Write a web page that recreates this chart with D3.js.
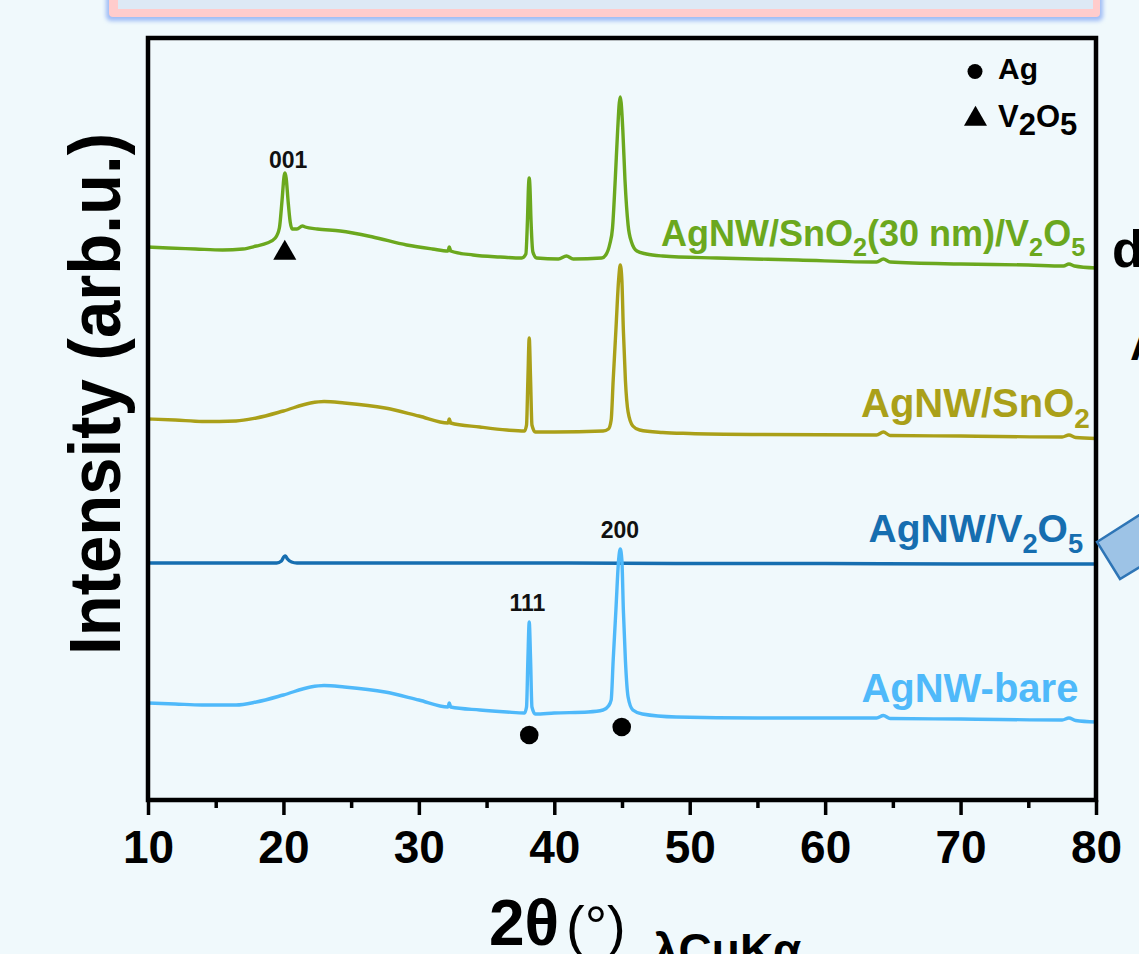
<!DOCTYPE html>
<html>
<head>
<meta charset="utf-8">
<script src="https://cdn.jsdelivr.net/npm/d3@7"></script>
<style>
  html, body { margin: 0; padding: 0; background: #f0f9fc; }
  svg { display: block; }
  text { font-family: "Liberation Sans", Arial, sans-serif; }
</style>
</head>
<body>
<svg id="chart" width="1139" height="954"></svg>
<script>
// ---------------- DATA ----------------
const xDomain = [10, 80];
const yDomain = [0, 762];
const xTicks = [10, 20, 30, 40, 50, 60, 70, 80];
const xMinorTicks = [15, 25, 35, 45, 55, 65, 75];

// [2θ, intensity (arb.u., stacked)]
const agnwSnO2V2O5 = [[10.0,553],[11.5,552],[13.5,551],[15.5,550],[17.0,551],[18.0,554],[18.8,557],[19.4,562],[19.7,572],[19.9,600],[20.05,624],[20.12,627],[20.2,622],[20.35,598],[20.5,578],[20.65,571],[21.0,571],[21.4,574],[21.6,573],[22.5,571],[24.2,569],[26.6,563],[29.1,555],[31.0,551],[32.15,549],[32.25,553],[32.35,549],[34.0,545],[36.0,543],[37.6,542],[37.9,546],[38.02,580],[38.1,615],[38.15,622],[38.2,614],[38.28,580],[38.42,548],[38.7,542],[40.3,541],[40.9,544],[41.4,541],[43.5,542],[43.8,545],[44.1,556],[44.3,572],[44.5,620],[44.68,670],[44.8,697],[44.87,703],[44.94,697],[45.06,670],[45.22,620],[45.45,575],[45.7,558],[46.1,549],[46.8,546],[48.0,544],[52.0,542],[58.0,540],[63.8,538],[64.3,541],[64.8,538],[70.0,536],[75.0,535],[77.6,534],[78.0,536],[78.4,534],[80.0,532]];

const agnwSnO2 = [[10.0,381],[12.0,380],[14.0,378.5],[16.5,379],[18.0,382],[20.0,389],[22.0,397],[23.0,398.5],[24.5,397],[27.5,392],[30.0,384],[32.15,377],[32.25,381],[32.35,377],[34.5,373],[36.5,370],[37.8,369],[37.95,375],[38.05,420],[38.15,462],[38.25,420],[38.35,375],[38.6,368],[40.0,368],[43.6,369],[44.0,371],[44.2,380],[44.35,420],[44.55,470],[44.75,520],[44.87,535],[44.99,520],[45.1,470],[45.25,420],[45.45,388],[45.8,374],[46.3,370],[48.0,367.5],[50.0,366.5],[55.0,365.5],[63.8,365],[64.3,368],[64.8,364.5],[70.0,364],[77.5,363],[78.0,365],[78.5,362.5],[80.0,361.5]];

const agnwV2O5 = [[10.0,237],[15.0,237],[19.5,237],[19.85,239],[20.05,243.5],[20.15,244],[20.3,241],[20.6,238],[21.0,237],[30.0,237],[40.0,237],[50.0,236.5],[60.0,236.5],[70.0,236],[80.0,236]];

const agnwBare = [[10.0,97],[12.0,96],[14.0,95],[16.5,95],[18.0,98],[20.0,105],[22.0,113],[23.0,114.5],[24.5,113],[27.5,108],[30.0,100],[32.15,93],[32.25,97],[32.35,93],[34.5,90],[36.5,88],[37.8,87],[37.95,93],[38.05,140],[38.15,178],[38.25,140],[38.35,93],[38.6,86],[40.0,87],[42.5,88],[43.6,90],[44.0,94],[44.2,100],[44.35,140],[44.55,190],[44.75,240],[44.87,251],[44.99,240],[45.1,190],[45.25,140],[45.45,103],[45.8,90],[46.5,86],[49.0,83],[55.0,82],[63.8,82],[64.3,84.5],[64.8,81.5],[70.0,81],[77.5,80],[78.0,82],[78.5,79.5],[80.0,78]];

// series labels: [text, isSubscript]
const seriesLabels = [
  [["AgNW/SnO",0],["2",1],["(30 nm)/V",0],["2",1],["O",0],["5",1]],
  [["AgNW/SnO",0],["2",1]],
  [["AgNW/V",0],["2",1],["O",0],["5",1]],
  [["AgNW-bare",0]]
];
const labelY = [554, 383, 258, 98];          // intensity positions of label baselines
const labelX = [79.2, 79.55, 79.05, 78.7];   // 2θ of label right ends

const peakLabels = ["001", "111", "200"];
const peakLabelX = [20.35, 38.02, 44.85];
const peakLabelY = [632, 189, 262];

const agMarkers = [[38.15, 65], [44.98, 73]];
const v2o5Markers = [[20.1, 549]];

const legendItems = ["Ag", "V2O5"];

// ---------------- STYLE ----------------
const colors = ["#6ba81e", "#aaa019", "#166eb0", "#4fb9fa"];
const labelSizes = [36, 40, 39, 40];
const seriesData = [agnwSnO2V2O5, agnwSnO2, agnwV2O5, agnwBare];
const L = 148, R = 1096, T = 38, B = 800;

const svg = d3.select("#chart");

// header box
const defs = svg.append("defs");
defs.append("filter").attr("id","glow").attr("x","-5%").attr("y","-50%").attr("width","110%").attr("height","200%")
  .append("feGaussianBlur").attr("stdDeviation", 2);
svg.append("rect").attr("x",106).attr("y",-20).attr("width",997).attr("height",41).attr("rx",5)
  .attr("fill","#9fbcf5").attr("filter","url(#glow)");
svg.append("rect").attr("x",109).attr("y",-20).attr("width",991).attr("height",37).attr("rx",4).attr("fill","#ffcccc");
svg.append("rect").attr("x",118).attr("y",-20).attr("width",975).attr("height",29).attr("fill","#dde9f5");

const x = d3.scaleLinear().domain(xDomain).range([L, R]);
const y = d3.scaleLinear().domain(yDomain).range([B, T]);

// traces
const line = d3.line().x(d => x(d[0])).y(d => y(d[1])).curve(d3.curveMonotoneX);
defs.append("clipPath").attr("id","clip").append("rect").attr("x",L).attr("y",T).attr("width",R-L).attr("height",B-T);
const g = svg.append("g").attr("clip-path","url(#clip)");
seriesData.forEach((s, i) => {
  g.append("path").datum(s).attr("d", line).attr("fill","none")
    .attr("stroke", colors[i]).attr("stroke-width", 3.4).attr("stroke-linejoin","round");
});

// series labels
seriesLabels.forEach((parts, i) => {
  const fs = labelSizes[i];
  const t = svg.append("text").attr("x", x(labelX[i])).attr("y", y(labelY[i]))
    .attr("text-anchor","end").attr("font-weight","bold").attr("font-size", fs).attr("fill", colors[i]);
  let sub = false;
  parts.forEach(([txt, s]) => {
    const ts = t.append("tspan").text(txt);
    if (s && !sub) { ts.attr("dy", fs*0.28).attr("font-size", fs*0.7); sub = true; }
    else if (s && sub) { ts.attr("font-size", fs*0.7); }
    else if (!s && sub) { ts.attr("dy", -fs*0.28).attr("font-size", fs); sub = false; }
  });
});

// peak labels
peakLabels.forEach((p, i) => {
  svg.append("text").attr("x", x(peakLabelX[i])).attr("y", y(peakLabelY[i]))
    .attr("text-anchor","middle").attr("font-weight","bold").attr("font-size", 23).attr("fill","#111").text(p);
});

// markers
const tri = d3.symbol().type(d3.symbolTriangle).size(230);
agMarkers.forEach(d => svg.append("circle").attr("cx", x(d[0])).attr("cy", y(d[1])).attr("r", 9.3).attr("fill","#000"));
v2o5Markers.forEach(d => svg.append("path").attr("d", tri()).attr("transform", `translate(${x(d[0])},${y(d[1])+2})`).attr("fill","#000"));

// legend
svg.append("circle").attr("cx", 975).attr("cy", 71.5).attr("r", 7.5).attr("fill","#000");
svg.append("text").attr("x", 998).attr("y", 79).attr("font-weight","bold").attr("font-size", 30).attr("fill","#000").text(legendItems[0]);
svg.append("path").attr("d", tri()).attr("transform","translate(975.5,119)").attr("fill","#000");
const lt = svg.append("text").attr("x", 998).attr("y", 127).attr("font-weight","bold").attr("font-size", 31).attr("fill","#000");
lt.append("tspan").text("V");
lt.append("tspan").attr("dy", 8).text("2");
lt.append("tspan").attr("dy", -8).text("O");
lt.append("tspan").attr("dy", 8).text("5");

// frame
svg.append("rect").attr("x", L).attr("y", T).attr("width", R-L).attr("height", B-T)
  .attr("fill","none").attr("stroke","#000").attr("stroke-width", 4.5);

// x axis ticks
const ax = svg.append("g").attr("transform", `translate(0,${B})`)
  .call(d3.axisBottom(x).tickValues(xTicks).tickSize(15).tickFormat(d3.format("d")));
ax.select(".domain").remove();
ax.selectAll(".tick line").attr("stroke","#000").attr("stroke-width", 3.5);
ax.selectAll(".tick text").attr("y", 63).attr("dy", 0).attr("font-size", 46).attr("font-weight","bold")
  .attr("font-family", '"Liberation Sans", Arial, sans-serif').attr("fill","#000");
const axm = svg.append("g").attr("transform", `translate(0,${B})`)
  .call(d3.axisBottom(x).tickValues(xMinorTicks).tickSize(8).tickFormat(""));
axm.select(".domain").remove();
axm.selectAll(".tick line").attr("stroke","#000").attr("stroke-width", 3.5);

// axis titles
const xt = svg.append("text").attr("y", 945).attr("fill","#000");
xt.append("tspan").attr("x", 489).attr("font-size", 64).attr("font-weight","bold").text("2θ");
xt.append("tspan").attr("x", 566).attr("font-size", 56).attr("font-weight","normal").text("(°)");
xt.append("tspan").attr("x", 653).attr("y", 966).attr("font-size", 46).attr("font-weight","bold").text("λCuKα");

svg.append("text").attr("transform", "translate(120,394) rotate(-90)")
  .attr("text-anchor","middle").attr("font-size", 72).attr("font-weight","bold").attr("fill","#000")
  .attr("textLength", 522).attr("lengthAdjust","spacingAndGlyphs")
  .text("Intensity (arb.u.)");

// right-side fragments
svg.append("text").attr("x", 1112).attr("y", 267).attr("font-size", 52).attr("font-weight","bold").attr("fill","#000").text("d");
svg.append("text").attr("x", 1130).attr("y", 360).attr("font-size", 44).attr("font-weight","bold").attr("fill","#000").text("A");
svg.append("polygon").attr("points", "1097,542 1152,507 1176,545 1120,579")
  .attr("fill","#9dc3e6").attr("stroke","#2e75b6").attr("stroke-width", 2.5);
</script>
</body>
</html>
